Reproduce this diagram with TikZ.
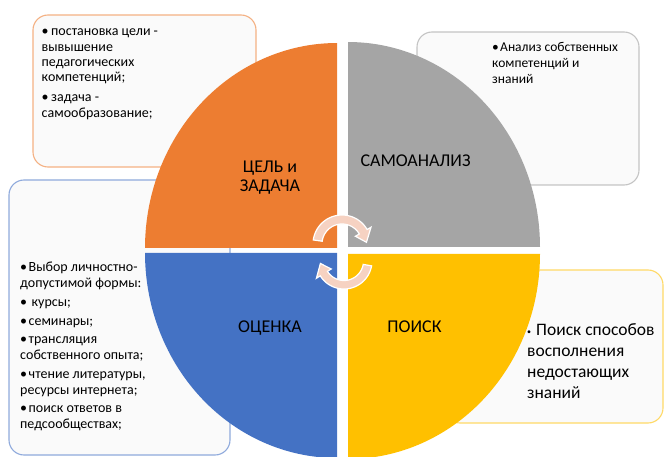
\documentclass[tikz,border=0pt]{standalone}
\usepackage{fontspec}
\setmainfont{Carlito}
\definecolor{qorange}{HTML}{ED7D31}
\definecolor{qgray}{HTML}{A5A5A5}
\definecolor{qblue}{HTML}{4472C4}
\definecolor{qyellow}{HTML}{FFC000}
\definecolor{borange}{HTML}{F4B183}
\definecolor{bgray}{HTML}{C4C4C4}
\definecolor{bblue}{HTML}{8FAADC}
\definecolor{byellow}{HTML}{FFD966}
\definecolor{boxfill}{HTML}{FAFAFA}
\definecolor{arrowfill}{HTML}{F6D2C2}
\newlength\bind
\newcommand\bitem[1]{\par\hangindent=\bind\hangafter=1\noindent\makebox[\bind][l]{\textbullet}#1}
\tikzset{
  infobox/.style={fill=boxfill, line width=1.1pt, rounded corners=15pt},
  biglabel/.style={inner sep=0, anchor=base, font=\fontsize{18}{19}\selectfont},
  txt/.style={inner sep=0, anchor=base west},
  cyclearrow/.style={fill=arrowfill, draw=white, line width=1.2pt, line join=miter}
}
\begin{document}
\begin{tikzpicture}[x=1pt,y=-1pt]
\useasboundingbox (0,0) rectangle (664,457);
\clip (0,0) rectangle (664,457);
% boxes
\draw[infobox, draw=borange] (33,15) rectangle (256,167);
\draw[infobox, draw=bgray] (417,32) rectangle (639,185);
\draw[infobox, draw=bblue] (9,180) rectangle (230,455);
\draw[infobox, draw=byellow] (445,270) rectangle (663,423);
% quadrants
\fill[qorange] (337,248) -- plot[domain=180:270,samples=80] ({337+192*cos(\x)},{248+205*sin(\x)}) -- cycle;
\fill[qgray] (348,247) -- plot[domain=270:360,samples=80] ({348+192*cos(\x)},{247+205*sin(\x)}) -- cycle;
\fill[qyellow] (348,254) -- plot[domain=0:90,samples=80] ({348+192*cos(\x)},{254+205*sin(\x)}) -- cycle;
\fill[qblue] (337,253) -- plot[domain=90:180,samples=80] ({337+192*cos(\x)},{253+205*sin(\x)}) -- cycle;
% labels
\node[inner sep=0, anchor=base] (goal) at (270,172.7) {\parbox[t]{100pt}{\centering\fontsize{18}{19}\selectfont ЦЕЛЬ и\\ЗАДАЧА}};
\node[biglabel] (self) at (415.5,166.7) {САМОАНАЛИЗ};
\node[biglabel] (eval) at (270,332.7) {ОЦЕНКА};
\node[biglabel] (search) at (414.5,332.7) {ПОИСК};
% cycle arrows
\draw[cyclearrow] plot[domain=188:330,samples=40] ({342+29*cos(\x)},{244+29*sin(\x)})
  -- ({342+33.5*cos(330)},{244+33.5*sin(330)})
  -- ({342+24.5*cos(356)},{244+24.5*sin(356)})
  -- ({342+15.5*cos(330)},{244+15.5*sin(330)})
  -- plot[domain=330:188,samples=40] ({342+20*cos(\x)},{244+20*sin(\x)}) -- cycle;
\draw[cyclearrow] plot[domain=10:148,samples=40] ({344+28*cos(\x)},{261+28*sin(\x)})
  -- ({344+32.5*cos(148)},{261+32.5*sin(148)})
  -- ({344+23.75*cos(174)},{261+23.75*sin(174)})
  -- ({344+15*cos(148)},{261+15*sin(148)})
  -- plot[domain=148:10,samples=40] ({344+19.5*cos(\x)},{261+19.5*sin(\x)}) -- cycle;
% box texts
\node[txt] (t1) at (41.5,36) {\parbox[t]{200pt}{\fontsize{14}{15.3}\selectfont\raggedright\setlength\parskip{4.7pt}\setlength\bind{9.5pt}%
\bitem{постановка цели -\\вывышение\\педагогических\\компетенций;}
\bitem{задача -\\самообразование;}}};
\node[txt] (t2) at (492,52) {\parbox[t]{140pt}{\fontsize{13.5}{15.7}\selectfont\raggedright\setlength\bind{8pt}%
\bitem{Анализ собственных\\компетенций и\\знаний}}};
\node[txt] (t3) at (20,272) {\parbox[t]{200pt}{\fontsize{14}{16}\selectfont\raggedright\setlength\parskip{2.6pt}\setlength\bind{8.5pt}%
\bitem{Выбор личностно-\\допустимой формы:}
\bitem{\hspace{3pt}курсы;}
\bitem{семинары;}
\bitem{трансляция\\собственного опыта;}
\bitem{чтение литературы,\\ресурсы интернета;}
\bitem{поиск ответов в\\педсообществах;}}};
\node[txt] (t4) at (527,335.5) {\parbox[t]{140pt}{\fontsize{17.5}{21}\selectfont\raggedright\setlength\bind{9pt}%
\par\hangindent=\bind\hangafter=1\noindent\makebox[\bind][l]{\raisebox{1.5pt}{\fontsize{8}{8}\selectfont\textbullet}}Поиск способов\\восполнения\\недостающих\\знаний}};
\end{tikzpicture}
\end{document}
